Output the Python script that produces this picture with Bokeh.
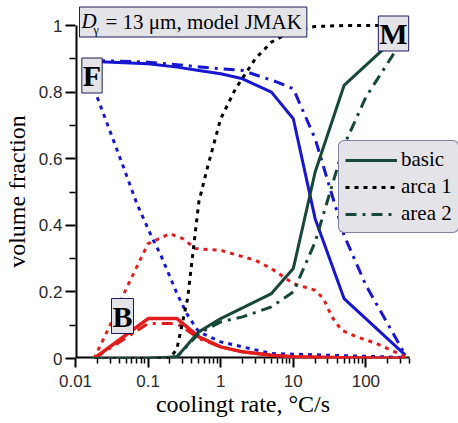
from bokeh.plotting import figure
from bokeh.models import (Range1d, FixedTicker, CustomJSTickFormatter, Label,
                          Legend, LegendItem)
from bokeh.embed import file_html
from bokeh.resources import INLINE

# ---------------- data ----------------
x_ticks = [0.01, 0.1, 1, 10, 100]
x_tick_labels = ["0.01", "0.1", "1", "10", "100"]
x_minor = [0.02, 0.03, 0.04, 0.05, 0.06, 0.07, 0.08, 0.09,
           0.2, 0.3, 0.4, 0.5, 0.6, 0.7, 0.8, 0.9,
           2, 3, 4, 5, 6, 7, 8, 9,
           20, 30, 40, 50, 60, 70, 80, 90,
           200, 300, 400]
y_ticks = [0, 0.2, 0.4, 0.6, 0.8, 1]
y_tick_labels = ["0", "0.2", "0.4", "0.6", "0.8", "1"]
y_minor = [0.1, 0.3, 0.5, 0.7, 0.9]

# Ferrite (F)
F_basic_x = [0.018, 0.1, 0.25, 0.5, 1, 2, 5, 10, 20, 50, 350]
F_basic_y = [0.892, 0.885, 0.875, 0.865, 0.855, 0.84, 0.80, 0.72, 0.42, 0.18, 0.01]
F_area1_x = [0.018, 0.044, 0.07, 0.115, 0.15, 0.25, 0.35, 0.5, 1, 5, 350]
F_area1_y = [0.81, 0.585, 0.465, 0.36, 0.31, 0.195, 0.13, 0.08, 0.05, 0.015, 0.003]
F_area2_x = [0.018, 0.1, 1, 2, 6, 10, 20, 50, 100, 350]
F_area2_y = [0.895, 0.89, 0.87, 0.865, 0.83, 0.81, 0.66, 0.37, 0.22, 0.01]

# Bainite (B)
B_basic_x = [0.018, 0.1, 0.25, 0.5, 1, 2, 5, 10, 50, 350]
B_basic_y = [0.0, 0.12, 0.12, 0.065, 0.035, 0.02, 0.01, 0.005, 0.002, 0.0]
B_area1_x = [0.018, 0.03, 0.05, 0.1, 0.2, 0.3, 0.45, 1, 3, 5, 10, 20, 26, 34, 46, 75, 140, 350]
B_area1_y = [0.0, 0.1, 0.21, 0.345, 0.375, 0.36, 0.33, 0.325, 0.295, 0.27, 0.225,
             0.205, 0.18, 0.125, 0.085, 0.065, 0.045, 0.005]
B_area2_x = [0.018, 0.1, 0.25, 0.5, 1, 2, 5, 10, 50, 350]
B_area2_y = [0.0, 0.105, 0.105, 0.06, 0.035, 0.02, 0.01, 0.005, 0.002, 0.0]

# Martensite (M)
M_basic_x = [0.018, 0.1, 0.25, 0.5, 1, 5, 10, 20, 50, 350]
M_basic_y = [0.0, 0.0, 0.005, 0.08, 0.12, 0.195, 0.27, 0.56, 0.82, 0.99]
M_area1_x = [0.018, 0.1, 0.2, 0.25, 0.35, 0.5, 0.65, 1, 1.6, 3, 5, 10, 20, 50, 350]
M_area1_y = [0.0, 0.0, 0.0, 0.03, 0.18, 0.47, 0.57, 0.72, 0.81, 0.9, 0.95, 0.985,
             0.997, 1.0, 1.0]
M_area2_x = [0.018, 0.1, 0.25, 0.5, 1, 2, 5, 10, 20, 50, 100, 350]
M_area2_y = [0.0, 0.0, 0.005, 0.075, 0.11, 0.125, 0.155, 0.2, 0.35, 0.64, 0.785, 0.97]

legend_labels = ["basic", "arca 1", "area 2"]

# axis extents of the drawn axes
X_MIN, X_MAX = 0.01, 400
Y_MIN, Y_MAX = 0.0, 1.0

# ---------------- styling / geometry ----------------
BLUE = "#1717d2"
RED = "#e31c1c"
GREEN = "#17473a"
BLACK = "#000000"
DOT = "4 5"
DASHDOT = "11 6 3 6"
SERIF = "Liberation Serif"
SANS = "Liberation Sans"
BOX_FILL = "#e4e4e8"
BOX_LINE = "#1c1c5a"

W_PX, H_PX = 458, 423
LEFT_PX, BOTTOM_PX, TOP1_PX = 75, 358, 25   # pixel of x=0.01, y=0, y=1
DEC_PX = 72.6                                # pixels per decade
UNIT_PX = BOTTOM_PX - TOP1_PX                # pixels per unit of y

# the frame is extended to the top/right edges so annotations are not clipped
x_end = 10 ** ((W_PX - LEFT_PX) / DEC_PX - 2)
y_end = BOTTOM_PX / UNIT_PX

p = figure(width=W_PX, height=H_PX, x_axis_type="log",
           x_range=Range1d(X_MIN, x_end), y_range=Range1d(Y_MIN, y_end),
           output_backend="svg", toolbar_location=None,
           min_border_left=LEFT_PX, min_border_right=0,
           min_border_top=0, min_border_bottom=H_PX - BOTTOM_PX)
p.xgrid.visible = False
p.ygrid.visible = False
p.outline_line_color = None
p.background_fill_color = "white"
p.border_fill_color = "white"

fmt_code = """
const i = vals.findIndex(v => Math.abs(v - tick) <= 1e-9 * Math.max(1, Math.abs(v)));
return i >= 0 ? labs[i] : '';
"""
p.xaxis.ticker = FixedTicker(ticks=x_ticks, minor_ticks=x_minor)
p.xaxis.formatter = CustomJSTickFormatter(args=dict(vals=x_ticks, labs=x_tick_labels), code=fmt_code)
p.yaxis.ticker = FixedTicker(ticks=y_ticks, minor_ticks=y_minor)
p.yaxis.formatter = CustomJSTickFormatter(args=dict(vals=y_ticks, labs=y_tick_labels), code=fmt_code)

for ax in (p.xaxis, p.yaxis):
    ax.axis_line_color = None
    ax.major_tick_line_width = 2
    ax.minor_tick_line_width = 1.5
    ax.major_tick_in = 0
    ax.minor_tick_in = 0
    ax.major_label_text_font = SANS
    ax.major_label_text_font_size = "17px"
    ax.major_label_text_color = "#2a2a2a"
    ax.axis_label_text_font = SERIF
    ax.axis_label_text_font_size = "24px"
    ax.axis_label_text_font_style = "normal"
    ax.axis_label_text_color = "black"

NB = "\u00a0"
p.xaxis.major_tick_out = 9
p.xaxis.minor_tick_out = 5
p.xaxis.major_label_standoff = 7
# trailing no-break spaces re-centre the label under the drawn axis
p.xaxis.axis_label = "coolingt rate, \u00b0C/s" + NB * 8
p.xaxis.axis_label_standoff = 1

p.yaxis.major_tick_out = 10
p.yaxis.minor_tick_out = 6
p.yaxis.major_label_standoff = 3
p.yaxis.axis_label = "volume fraction" + NB * 4
p.yaxis.axis_label_standoff = 6

# drawn axis lines (only over the real axis extents)
p.segment(x0=[X_MIN, X_MIN], y0=[Y_MIN, Y_MIN], x1=[X_MAX, X_MIN], y1=[Y_MIN, Y_MAX],
          line_color="black", line_width=4)

W = 3
# F curves
p.line(F_basic_x, F_basic_y, line_color=BLUE, line_width=W)
p.line(F_area1_x, F_area1_y, line_color=BLUE, line_width=W, line_dash=DOT)
p.line(F_area2_x, F_area2_y, line_color=BLUE, line_width=W, line_dash=DASHDOT)
# B curves
p.line(B_area1_x, B_area1_y, line_color=RED, line_width=W, line_dash=DOT)
p.line(B_area2_x, B_area2_y, line_color=RED, line_width=W, line_dash=DASHDOT)
p.line(B_basic_x, B_basic_y, line_color=RED, line_width=W + 0.5)
# M curves
r_basic = p.line(M_basic_x, M_basic_y, line_color=GREEN, line_width=W)
r_a1 = p.line(M_area1_x, M_area1_y, line_color=BLACK, line_width=W, line_dash=DOT)
r_a2 = p.line(M_area2_x, M_area2_y, line_color=GREEN, line_width=W, line_dash=DASHDOT)

legend = Legend(items=[LegendItem(label=legend_labels[0], renderers=[r_basic]),
                       LegendItem(label=legend_labels[1], renderers=[r_a1]),
                       LegendItem(label=legend_labels[2], renderers=[r_a2])],
                location=(338 - LEFT_PX, BOTTOM_PX - 233))
legend.label_text_font = SERIF
legend.label_text_font_size = "21px"
legend.label_text_color = "black"
legend.glyph_width = 52
legend.glyph_height = 24
legend.label_height = 24
legend.label_standoff = 4
legend.padding = 6
legend.spacing = 2
legend.margin = 0
legend.background_fill_color = BOX_FILL
legend.background_fill_alpha = 1
legend.border_line_color = BOX_LINE
legend.border_line_width = 1
if "border_radius" in Legend.properties():
    legend.border_radius = 6
p.add_layout(legend)

# helpers converting reference pixel positions to data coordinates
def xd(px):
    return 10 ** ((px - LEFT_PX) / DEC_PX - 2)

def yd(py):
    return (BOTTOM_PX - py) / UNIT_PX

has_pad = "padding" in Label.properties()

def box_label(px, py, text, size, style="normal", align="center", pad=1):
    kw = dict(x=xd(px), y=yd(py), text=text, text_font=SERIF,
              text_font_size=size, text_font_style=style, text_align=align,
              text_baseline="middle", text_color="black",
              background_fill_color=BOX_FILL, background_fill_alpha=1,
              border_line_color=BOX_LINE, border_line_width=1)
    if has_pad:
        kw["padding"] = pad
    lab = Label(**kw)
    p.add_layout(lab)
    return lab

# title box
box_label(79, 21.5, NB * 4 + "= 13 \u03bcm, model JMAK", "21px", align="left", pad=(5, 3))
p.add_layout(Label(x=xd(81), y=yd(20), text="D", text_font=SERIF, text_font_size="21px",
                   text_font_style="italic", text_align="left", text_baseline="middle",
                   text_color="black"))
p.add_layout(Label(x=xd(93), y=yd(29), text="\u03b3", text_font=SERIF, text_font_size="12px",
                   text_align="left", text_baseline="middle", text_color="black"))

# phase labels
box_label(91.5, 75, "F", "30px", style="bold", pad=1)
box_label(122, 315.5, "B", "30px", style="bold", pad=1)
box_label(393, 33, "M", "30px", style="bold", pad=1)

open("out.html", "w").write(file_html(p, INLINE))
